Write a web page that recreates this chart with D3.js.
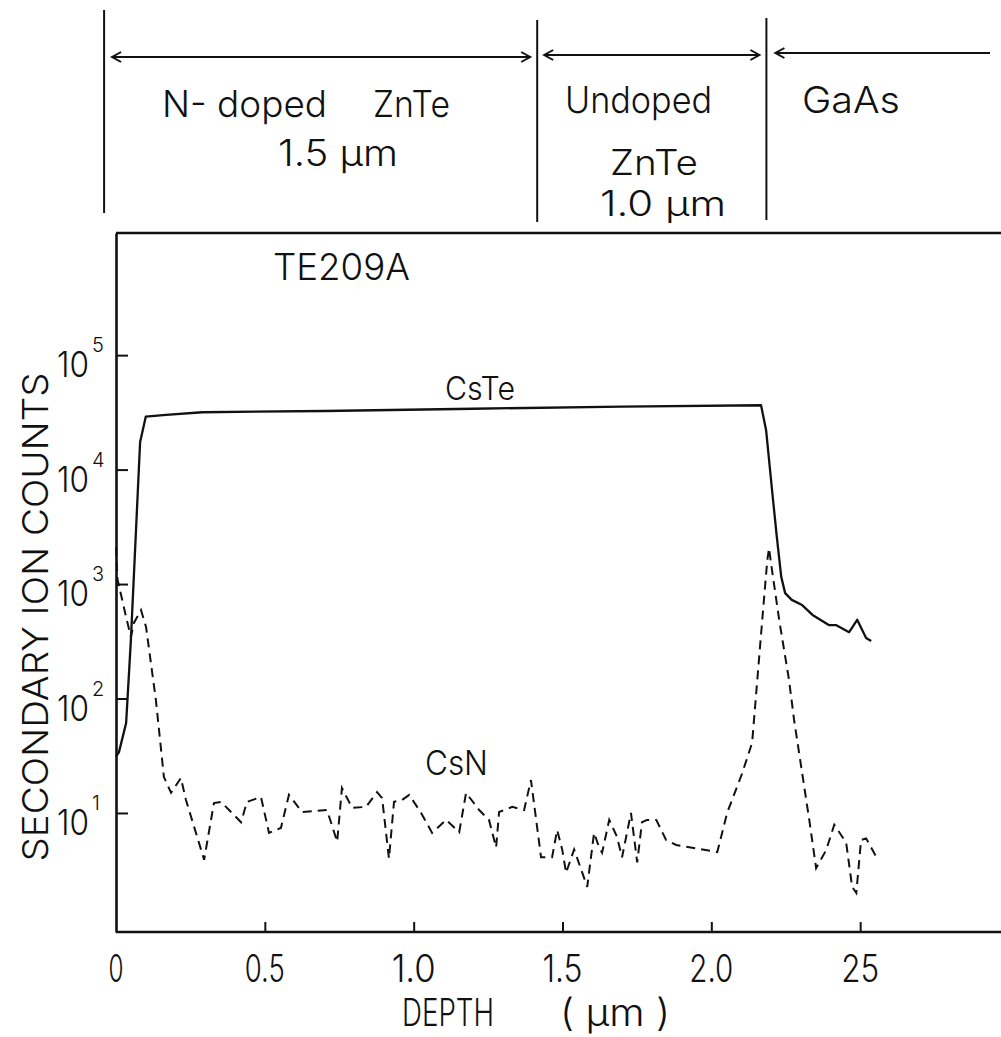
<!DOCTYPE html>
<html><head><meta charset="utf-8">
<script src="https://cdn.jsdelivr.net/npm/d3@7"></script>
<style>
body{margin:0;background:#fff}
text{font-family:"Inter","Liberation Sans","DejaVu Sans",sans-serif;font-weight:300;fill:#111}
</style>
</head><body>
<svg id="c" width="1001" height="1037"></svg>
<script>
// ---- data ----
const depthTicks = [0.5, 1.0, 1.5, 2.0, 2.5];
const depthLabelValues = [0, 0.5, 1.0, 1.5, 2.0, 2.5];
const depthLabels = ["0", "0.5", "1.0", "1.5", "2.0", "25"];
const countTicks = [1e1, 1e2, 1e3, 1e4, 1e5];
const countExps = ["1", "2", "3", "4", "5"];

const csTeDepth  = [0.0, 0.01, 0.034, 0.05, 0.081, 0.10, 0.168, 0.29, 0.7, 1.2, 1.7, 2.167, 2.184, 2.204, 2.22, 2.235, 2.248, 2.27, 2.305, 2.34, 2.396, 2.42, 2.463, 2.49, 2.52, 2.537];
const csTeCounts = [31, 34, 61, 324, 17400, 29000, 30000, 31700, 32500, 34000, 35500, 36500, 22100, 6600, 2580, 1150, 833, 727, 655, 537, 437, 437, 380, 487, 338, 318];

const csNDepth  = [0.0, 0.005, 0.034, 0.05, 0.06, 0.084, 0.101, 0.134, 0.161, 0.185, 0.218, 0.235, 0.296, 0.329, 0.353, 0.42, 0.44, 0.487, 0.514, 0.554, 0.581, 0.625, 0.709, 0.743, 0.759, 0.793, 0.84, 0.877, 0.894, 0.917, 0.934, 0.961, 0.985, 1.025, 1.062, 1.109, 1.153, 1.176, 1.22, 1.253, 1.277, 1.287, 1.331, 1.371, 1.394, 1.428, 1.465, 1.482, 1.499, 1.512, 1.539, 1.583, 1.606, 1.623, 1.633, 1.657, 1.683, 1.70, 1.73, 1.751, 1.767, 1.784, 1.815, 1.848, 1.882, 2.02, 2.053, 2.103, 2.137, 2.171, 2.188, 2.194, 2.20, 2.228, 2.261, 2.278, 2.329, 2.352, 2.386, 2.413, 2.453, 2.473, 2.487, 2.503, 2.52, 2.557];
const csNCounts = [2100, 1100, 515, 344, 457, 593, 421, 97, 20.6, 15, 20.2, 13, 3.9, 12.2, 12.5, 8.3, 12.5, 13.8, 6.7, 7.4, 14.4, 10.2, 10.6, 5.6, 16.5, 11.1, 11.3, 15.2, 13.5, 4.0, 12.5, 13, 14.4, 10, 6.7, 8.7, 6.8, 15, 10.6, 8.7, 5.0, 10.2, 11.3, 10.6, 19.4, 4.1, 4.1, 7.1, 4.8, 3.0, 4.8, 2.26, 6.7, 5.0, 4.5, 8.7, 6.2, 4.1, 10, 3.7, 8.3, 8.7, 8.7, 5.8, 5.25, 4.55, 10, 22, 41, 485, 1620, 2060, 1550, 485, 145, 65, 8.7, 3.3, 4.75, 7.9, 5.5, 2.26, 2.0, 5.8, 6.0, 4.0];

const layerBounds = [-0.04, 1.415, 2.185];

// ---- chart ----
const svg = d3.select("#c");
const x = d3.scaleLinear().domain([0, 3]).range([116, 1009]);
const y = d3.scaleLog().domain([Math.pow(10, -0.04), Math.pow(10, 6.067)]).range([932, 233]);
const ink = "#111";

// frame
svg.append("line").attr("x1", x(0)).attr("x2", 1001).attr("y1", y.range()[1]).attr("y2", y.range()[1])
  .attr("stroke", ink).attr("stroke-width", 2.6);

const xAxis = d3.axisBottom(x).tickValues(depthTicks).tickSize(-10).tickSizeOuter(0).tickFormat("");
const gx = svg.append("g").attr("transform", `translate(0,${y.range()[0]})`).call(xAxis);
gx.select(".domain").attr("d", `M${x(0)},0H1001`).attr("stroke", ink).attr("stroke-width", 2.6);
gx.selectAll(".tick line").attr("stroke", ink).attr("stroke-width", 2);

const yAxis = d3.axisLeft(y).tickValues(countTicks).tickSize(-12).tickSizeOuter(0).tickFormat("");
const gy = svg.append("g").attr("transform", `translate(${x(0)},0)`).call(yAxis);
gy.select(".domain").attr("stroke", ink).attr("stroke-width", 2.6);
gy.selectAll(".tick line").attr("stroke", ink).attr("stroke-width", 2);

// y tick labels 10^n
countTicks.forEach((v, i) => {
  svg.append("text").attr("x", 57).attr("y", y(v) + 22).attr("font-size", 36)
    .attr("textLength", 32).attr("lengthAdjust", "spacingAndGlyphs").text("10");
  svg.append("text").attr("x", 92).attr("y", y(v) - 3).attr("font-size", 20)
    .text(countExps[i]);
});

// x tick labels
const xLabW = [15, 40, 44, 40, 44, 38];
depthLabelValues.forEach((v, i) => {
  svg.append("text").attr("x", x(v)).attr("y", 982).attr("font-size", 38)
    .attr("text-anchor", "middle").attr("textLength", xLabW[i]).attr("lengthAdjust", "spacingAndGlyphs")
    .text(depthLabels[i]);
});

// axis titles
svg.append("text").attr("x", 402).attr("y", 1026).attr("font-size", 38)
  .attr("textLength", 92).attr("lengthAdjust", "spacingAndGlyphs").text("DEPTH");
svg.append("text").attr("x", 560).attr("y", 1026).attr("font-size", 38)
  .attr("textLength", 110).attr("lengthAdjust", "spacingAndGlyphs").text("( µm )");
svg.append("text").attr("transform", "translate(48,617) rotate(-90)").attr("font-size", 36)
  .attr("text-anchor", "middle").attr("textLength", 489).attr("lengthAdjust", "spacingAndGlyphs")
  .text("SECONDARY  ION  COUNTS");

// lines
const lineGen = d3.line().x(d => x(d[0])).y(d => y(d[1]));
svg.append("path").datum(csTeDepth.map((d, i) => [d, csTeCounts[i]]))
  .attr("d", lineGen).attr("fill", "none").attr("stroke", ink).attr("stroke-width", 2.3)
  .attr("stroke-linejoin", "round");
svg.append("path").datum(csNDepth.map((d, i) => [d, csNCounts[i]]))
  .attr("d", lineGen).attr("fill", "none").attr("stroke", ink).attr("stroke-width", 2)
  .attr("stroke-dasharray", "9,6");

// series labels
svg.append("text").attr("x", 445).attr("y", 400).attr("font-size", 33)
  .attr("textLength", 70).attr("lengthAdjust", "spacingAndGlyphs").text("CsTe");
svg.append("text").attr("x", 425).attr("y", 775).attr("font-size", 34)
  .attr("textLength", 63).attr("lengthAdjust", "spacingAndGlyphs").text("CsN");
svg.append("text").attr("x", 273).attr("y", 280).attr("font-size", 37)
  .attr("textLength", 137).attr("lengthAdjust", "spacingAndGlyphs").text("TE209A");

// layer annotation
const vTops = [10, 20, 18], vBots = [213, 222, 220];
layerBounds.forEach((b, i) => {
  svg.append("line").attr("x1", x(b)).attr("x2", x(b)).attr("y1", vTops[i]).attr("y2", vBots[i])
    .attr("stroke", ink).attr("stroke-width", 2);
});
function arrowHead(px, py, dir) {
  svg.append("path").attr("d", `M${px + dir * 9},${py - 5}L${px},${py}L${px + dir * 9},${py + 5}`)
    .attr("fill", "none").attr("stroke", ink).attr("stroke-width", 2);
}
const arrows = [[x(layerBounds[0]) + 8, x(layerBounds[1]) - 7, 57, true, true],
                [x(layerBounds[1]) + 7, x(layerBounds[2]) - 7, 55, true, true],
                [x(layerBounds[2]) + 9, 990, 53, true, false]];
arrows.forEach(a => {
  svg.append("line").attr("x1", a[0]).attr("x2", a[1]).attr("y1", a[2]).attr("y2", a[2])
    .attr("stroke", ink).attr("stroke-width", 2);
  if (a[3]) arrowHead(a[0], a[2], 1);
  if (a[4]) arrowHead(a[1], a[2], -1);
});
const notes = [["N- doped", 162, 117, 165, 37], ["ZnTe", 373, 117, 77, 37], ["1.5 µm", 278, 166, 120, 37],
               ["Undoped", 565, 113, 147, 37], ["ZnTe", 610, 175, 88, 35], ["1.0 µm", 600, 216, 126, 35],
               ["GaAs", 802, 113, 98, 37]];
notes.forEach(n => {
  svg.append("text").attr("x", n[1]).attr("y", n[2]).attr("font-size", n[4])
    .attr("textLength", n[3]).attr("lengthAdjust", "spacingAndGlyphs").text(n[0]);
});
</script>
</body></html>
